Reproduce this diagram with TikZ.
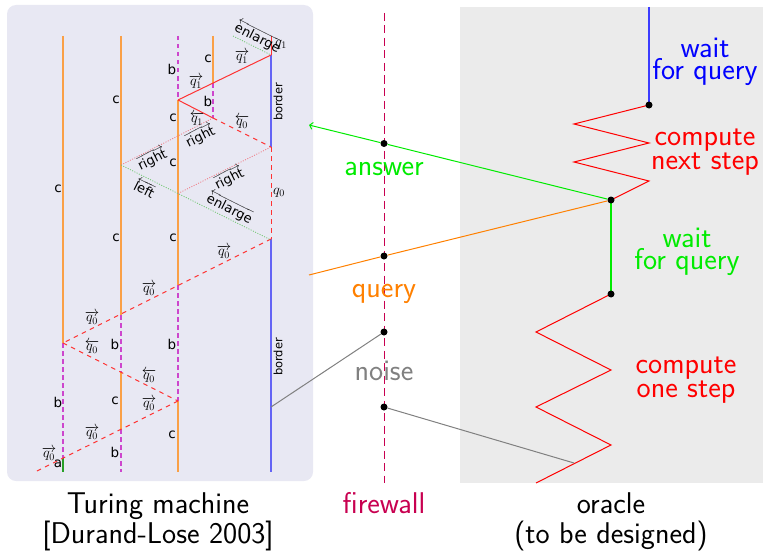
\documentclass[tikz,border=0pt]{standalone}
\usepackage{fontspec}
\newfontfamily\dvsans{DejaVu Sans}
\usetikzlibrary{arrows.meta}
\definecolor{tmbg}{RGB}{232,232,243}
\definecolor{orbg}{RGB}{235,235,235}
\definecolor{tmorange}{RGB}{250,160,70}
\definecolor{tmmag}{RGB}{205,70,205}
\definecolor{tmblue}{RGB}{100,100,245}
\definecolor{tmred}{RGB}{255,50,50}
\definecolor{tmpink}{RGB}{240,120,130}
\definecolor{tmgreen}{RGB}{110,200,110}
\definecolor{agreen}{RGB}{40,160,40}
\definecolor{fwcol}{RGB}{200,0,80}
\definecolor{brgreen}{RGB}{0,235,0}
\definecolor{qorange}{RGB}{255,128,0}
\definecolor{ngray}{RGB}{128,128,128}
\definecolor{obl}{RGB}{60,60,255}
\tikzset{
  cseg/.style={tmorange, line width=1.1pt},
  bseg/.style={tmmag, line width=1.1pt, dash pattern=on 4.5pt off 3.5pt},
  aseg/.style={agreen, line width=1.1pt},
  bord/.style={tmblue, line width=1.2pt},
  sig/.style={tmred, line width=1pt},
  sigd/.style={tmred, line width=1pt, dash pattern=on 4.5pt off 4.5pt},
  dotr/.style={tmpink, line width=0.8pt, dash pattern=on 1pt off 1.5pt},
  dotg/.style={tmgreen, line width=0.8pt, dash pattern=on 1pt off 1.5pt},
  lab/.style={font=\dvsans\fontsize{13.5}{13.5}\selectfont, inner sep=0},
  qlab/.style={font=\fontsize{14.4}{14.4}\selectfont, inner sep=0},
  rlab/.style={font=\dvsans\fontsize{13}{13}\selectfont, inner sep=0},
  bordlab/.style={font=\dvsans\fontsize{11.5}{11.5}\selectfont, inner sep=0, rotate=90},
  big/.style={font=\sffamily\fontsize{30}{21.5}\selectfont, align=center, inner sep=0, anchor=base},
  bigb/.style={font=\sffamily\fontsize{30}{30}\selectfont, align=center, inner sep=0, anchor=base},
  fdot/.style={circle, fill=black, inner sep=0, minimum size=7pt},
  ocl/.style={line width=1pt},
  ocv/.style={line width=1.3pt},
}
\begin{document}
\begin{tikzpicture}[x=1pt,y=-1pt]
\useasboundingbox (0,0) rectangle (763,551);
% backgrounds
\fill[tmbg, rounded corners=9pt] (7,5) rectangle (313,481);
\fill[orbg] (460,7) rectangle (763,483);

% ---- Turing machine space-time diagram ----
% line 1
\draw[cseg] (63,36) -- (63,343);
\draw[bseg] (63,343) -- (63,458);
\draw[aseg] (63,458) -- (63,472);
% line 2
\draw[cseg] (121,36) -- (121,315);
\draw[bseg] (121,315) -- (121,372);
\draw[cseg] (121,372) -- (121,429);
\draw[bseg] (121,429) -- (121,472);
% line 3
\draw[bseg] (178,36) -- (178,100);
\draw[cseg] (178,100) -- (178,285);
\draw[bseg] (178,285) -- (178,401);
\draw[cseg] (178,401) -- (178,472);
% line 4
\draw[cseg] (213,36) -- (213,83);
\draw[bseg] (213,83) -- (213,118);
% line 5 (border)
\draw[sig] (271,36) -- (271,55);
\draw[bord] (271,55) -- (271,147);
\draw[sigd] (271,147) -- (271,239);
\draw[bord] (271,239) -- (271,472);
% signals
\draw[sig] (178,100) -- (271,55);
\draw[sig] (178,100) -- (213,118);
\draw[sigd] (213,118) -- (271,147);
\draw[sigd] (271,239) -- (63,343);
\draw[sigd] (63,343) -- (178,401);
\draw[sigd] (178,401) -- (35,472);
\draw[dotr] (121,165) -- (213,118);
\draw[dotr] (178,193.5) -- (271,147);
\draw[dotg] (121,165) -- (271,240);
\draw[dotg] (233,36) -- (271,55);

% cell labels
\node[lab] (c1) at (208,59) {c};
\node[lab] (b1) at (172,69) {b};
\node[lab] (c2) at (116,100) {c};
\node[lab] (b2) at (208,101) {b};
\node[lab] (c3) at (173,118) {c};
\node[lab] (c4) at (173,163) {c};
\node[lab] (c5) at (58,189) {c};
\node[lab] (c6) at (116,238) {c};
\node[lab] (c7) at (173,238) {c};
\node[lab] (b3) at (115,344) {b};
\node[lab] (b4) at (172,344) {b};
\node[lab] (b5) at (58,402) {b};
\node[lab] (c8) at (115,401) {c};
\node[lab] (c9) at (172,435) {c};
\node[lab] (b6) at (115,452) {b};
\node[lab] (a1) at (58,464) {a};
\node[bordlab] (bo1) at (278,102) {border};
\node[bordlab] (bo2) at (278,357) {border};

% state labels
\node[qlab] (q1a) at (242,57) {$\overrightarrow{q_1}$};
\node[qlab] (q1b) at (196,82) {$\overrightarrow{q_1}$};
\node[qlab] (q1c) at (197,119) {$\overleftarrow{q_1}$};
\node[qlab] (q0a) at (242,122) {$\overleftarrow{q_0}$};
\node[qlab] (q1d) at (281,45) {$q_1$};
\node[qlab] (q0b) at (279,193) {$q_0$};
\node[qlab] (q0c) at (224,252) {$\overrightarrow{q_0}$};
\node[qlab] (q0d) at (149,289) {$\overrightarrow{q_0}$};
\node[qlab] (q0e) at (92,318) {$\overrightarrow{q_0}$};
\node[qlab] (q0f) at (92,347) {$\overleftarrow{q_0}$};
\node[qlab] (q0g) at (149,376) {$\overleftarrow{q_0}$};
\node[qlab] (q0h) at (149,404) {$\overrightarrow{q_0}$};
\node[qlab] (q0i) at (92,433) {$\overrightarrow{q_0}$};
\node[qlab] (q0j) at (49,454) {$\overrightarrow{q_0}$};

% signal names
\node[rlab, rotate=-26.6] (en1) at (258,37) {$\overleftarrow{\hbox{enlarge}}$};
\node[rlab, rotate=26.6] (ri1) at (200,136) {$\overrightarrow{\hbox{right}}$};
\node[rlab, rotate=26.6] (ri2) at (152,159) {$\overrightarrow{\hbox{right}}$};
\node[rlab, rotate=-26.6] (le1) at (145,188) {$\overleftarrow{\hbox{left}}$};
\node[rlab, rotate=26.6] (ri3) at (229,178) {$\overrightarrow{\hbox{right}}$};
\node[rlab, rotate=-26.6] (en2) at (230,208) {$\overleftarrow{\hbox{enlarge}}$};

% ---- firewall ----
\coordinate (fwtop) at (384,13);
\coordinate (fwbot) at (384,483);
\draw[fwcol, line width=1pt, dash pattern=on 8pt off 4.5pt] (fwtop) -- (fwbot);

% ---- oracle ----
\coordinate (otop) at (649,7);
\coordinate (d1c) at (649,105);
\coordinate (d2c) at (611,200);
\coordinate (d3c) at (611,294);
\coordinate (zend) at (536,483);
\draw[obl, ocv] (otop) -- (d1c);
\draw[red, ocl] (d1c) -- (574,124) -- (649,143) -- (574,162) -- (649,181) -- (d2c);
\draw[brgreen, ocv] (d2c) -- (d3c);
\draw[red, ocl] (d3c) -- (536,332) -- (611,370) -- (536,407) -- (611,445) -- (zend);
\node[fdot] (d1) at (d1c) {};
\node[fdot] (d2) at (d2c) {};
\node[fdot] (d3) at (d3c) {};

% exchanges
\node[fdot] (fa) at (384,143.5) {};
\node[fdot] (fq) at (384,256) {};
\node[fdot] (fn1) at (384,332) {};
\node[fdot] (fn2) at (384,407) {};
\coordinate (ansend) at (309,125);
\coordinate (qstart) at (309,275);
\coordinate (nend) at (271,407);
\coordinate (nend2) at (574,463);
\draw[brgreen, ocl, -{Straight Barb[length=3pt,width=7pt]}] (d2) -- (fa) -- (ansend);
\draw[qorange, ocl] (d2) -- (fq) -- (qstart);
\draw[ngray, ocl] (fn1) -- (nend);
\draw[ngray, ocl] (fn2) -- (nend2);

% texts
\node[big, text=blue] (t1) at (705,79) {wait\\for query};
\node[big, text=red] (t2) at (705,169) {compute\\next step};
\node[big, text=brgreen] (t3) at (384,175) {answer};
\node[big, text=brgreen] (t4) at (687,269) {wait\\for query};
\node[big, text=qorange] (t5) at (384,297) {query};
\node[big, text=ngray] (t6) at (384,380) {noise};
\node[big, text=red] (t7) at (686,397) {compute\\one step};
\node[bigb, text=fwcol] (t8) at (384,513) {firewall};
\node[bigb] (t9) at (611,543) {oracle\\(to be designed)};
\node[bigb] (t10) at (158,543) {Turing machine\\{[Durand-Lose 2003]}};
\end{tikzpicture}
\end{document}
